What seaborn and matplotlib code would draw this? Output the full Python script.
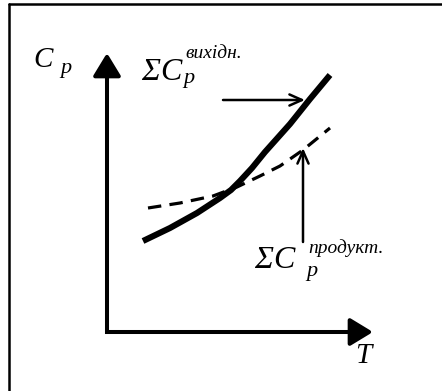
import matplotlib
matplotlib.use("Agg")
import matplotlib.pyplot as plt
import pandas as pd
import seaborn as sns

# Heat capacity vs. temperature (schematic units, origin at the axes corner)
t_initial = [36, 63, 90, 113, 124, 133, 145, 158, 183, 203, 223]
cp_initial = [91, 104, 119, 134, 142, 151, 164, 180, 208, 233, 257]
t_products = [41, 73, 106, 130, 153, 173, 196, 223]
cp_products = [124, 129, 136, 145, 156, 166, 182, 204]

label_axis_y = "C"
label_axis_x = "T"
label_sigma = "\u03a3"
label_c = "C"
label_sub = "p"
sup_initial = "вихідн."
sup_products = "продукт."

sns.set_style("white")
plt.rcParams["font.family"] = ["Liberation Serif", "DejaVu Serif"]

fig = plt.figure(figsize=(4.42, 3.91), dpi=100)
ax = fig.add_axes([0, 0, 1, 1])
ax.set_xlim(-107, 335)
ax.set_ylim(-59, 332)
ax.axis("off")

df_init = pd.DataFrame({"T": t_initial, "Cp": cp_initial})
df_prod = pd.DataFrame({"T": t_products, "Cp": cp_products})
sns.lineplot(data=df_init, x="T", y="Cp", ax=ax, color="black", lw=4.4,
             solid_capstyle="butt", solid_joinstyle="round", sort=False)
sns.lineplot(data=df_prod, x="T", y="Cp", ax=ax, color="black", lw=2.3,
             sort=False).lines[-1].set_dashes((4.2, 2.6))

# outer frame (top and left edges)
ax.plot([-98.5, -98.5], [-70, 328], color="black", lw=1.8)
ax.plot([-98.5, 400], [328, 328], color="black", lw=1.8)

# coordinate axes with filled heads
axis_style = dict(arrowstyle="-|>,head_length=1.4,head_width=0.85",
                  color="black", lw=2.9, shrinkA=0, shrinkB=0, mutation_scale=10,
                  capstyle="butt")
ax.annotate("", xy=(266, 0), xytext=(-2, 0), arrowprops=axis_style)
ax.annotate("", xy=(0, 279), xytext=(0, -2), arrowprops=axis_style)

# pointers to the curves
ptr_style = dict(arrowstyle="->,head_length=0.9,head_width=0.4",
                 color="black", lw=1.8, shrinkA=0, shrinkB=0, mutation_scale=10)
ax.annotate("", xy=(198, 232), xytext=(116, 232), arrowprops=ptr_style)
ax.annotate("", xy=(196, 184), xytext=(196, 90), arrowprops=ptr_style)

big = 21
sig = 23
sub = 16
sup = 14
txt = dict(style="italic", va="baseline", ha="left", color="black")
ax.text(-74, 265, label_axis_y, fontsize=big, **txt)
ax.text(-47, 259, label_sub, fontsize=sub, **txt)

ax.text(34, 252, label_sigma, fontsize=sig, **txt)
ax.text(53, 252, label_c, fontsize=sig, **txt)
ax.text(76, 249, label_sub, fontsize=sub, **txt)
ax.text(78, 274, sup_initial, fontsize=sup, **txt)

ax.text(147, 64, label_sigma, fontsize=sig, **txt)
ax.text(166, 64, label_c, fontsize=sig, **txt)
ax.text(199, 56, label_sub, fontsize=sub, **txt)
ax.text(201, 79, sup_products, fontsize=sup, **txt)

ax.text(248, -31, label_axis_x, fontsize=big, **txt)

fig.savefig("out.png", dpi=100)
